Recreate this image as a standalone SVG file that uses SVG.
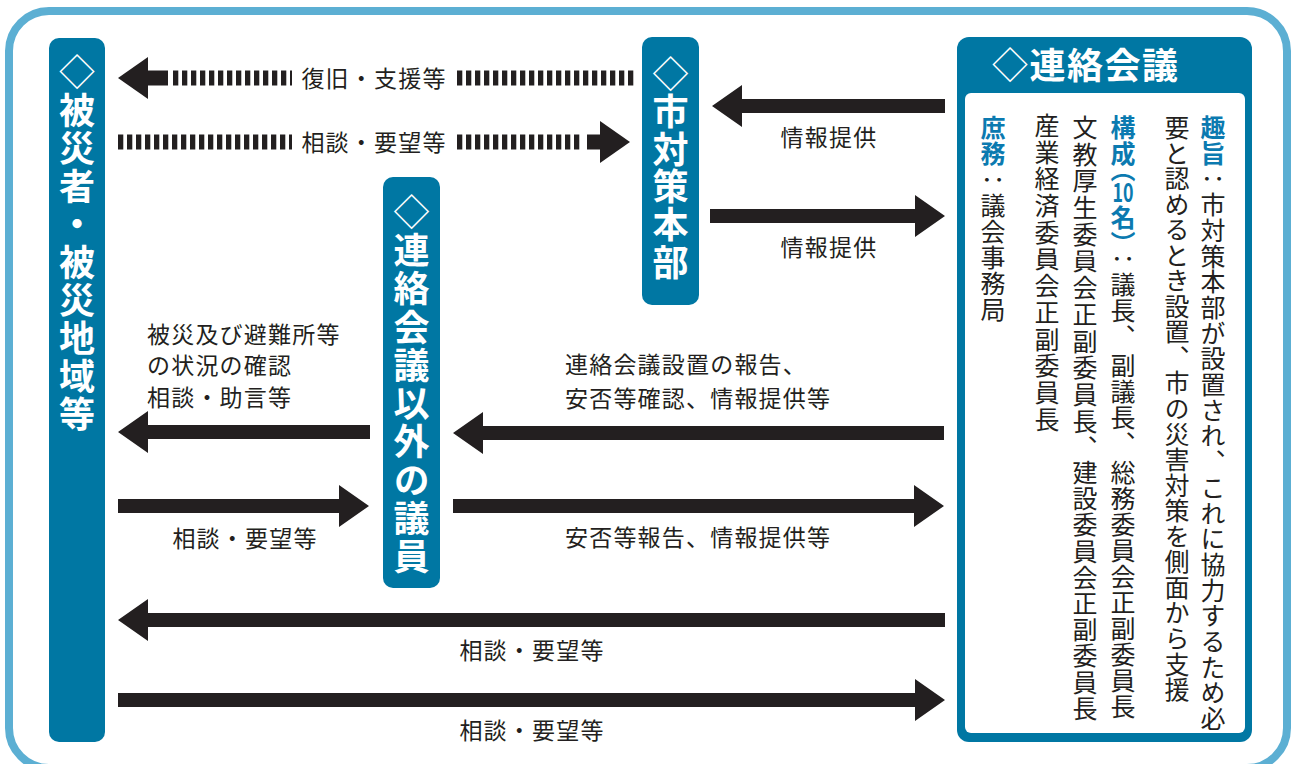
<svg xmlns="http://www.w3.org/2000/svg" width="1293" height="764" viewBox="0 0 1293 764">
<defs>
<style>
.node{fill:#0077a3;}
.nl{font-family:"Noto Sans CJK JP","Noto Sans CJK SC",sans-serif;font-weight:700;font-size:36px;fill:#ffffff;writing-mode:vertical-rl;letter-spacing:1.6px;}
.dia{font-weight:400;}
.lbl{font-family:"Noto Sans CJK JP","Noto Sans CJK SC",sans-serif;font-size:23px;fill:#231f20;letter-spacing:1.2px;}
.vt{font-family:"Noto Sans CJK JP","Noto Sans CJK SC",sans-serif;font-size:25px;fill:#231f20;writing-mode:vertical-rl;}
.bl{fill:#0b7ab0;font-weight:700;}
.arr{fill:#231f20;}
.dash{stroke:#231f20;stroke-width:15;stroke-dasharray:5.3 3.7;fill:none;}
</style>
</defs>
<rect x="9" y="11" width="1278" height="757" rx="40" ry="40" fill="#ffffff" stroke="#5cafd3" stroke-width="8"/>

<g id="node-hisaisha">
<rect class="node" x="49" y="38" width="56" height="704" rx="10"/>
<text class="nl" x="77" y="54" style="letter-spacing:2px"><tspan class="dia">◇</tspan>被災者・被災地域等</text>
</g>

<g id="node-shitaisaku">
<rect class="node" x="642" y="37" width="57" height="268" rx="10"/>
<text class="nl" x="670.5" y="56"><tspan class="dia">◇</tspan>市対策本部</text>
</g>

<g id="node-giin">
<rect class="node" x="383" y="177" width="57" height="411" rx="10"/>
<text class="nl" x="411.5" y="194" style="letter-spacing:2.3px"><tspan class="dia">◇</tspan>連絡会議以外の議員</text>
</g>

<g id="node-renraku">
<rect class="node" x="957" y="37" width="295" height="705" rx="12"/>
<rect x="965" y="93" width="280" height="640" rx="6" fill="#ffffff"/>
<text x="992" y="79" font-family="Noto Sans CJK JP, Noto Sans CJK SC, sans-serif" font-weight="700" font-size="36" fill="#ffffff" letter-spacing="1.5"><tspan font-weight="400">◇</tspan>連絡会議</text>
<text class="vt" x="1213" y="115" style="letter-spacing:0.7px"><tspan class="bl">趣旨</tspan>：市対策本部が設置され、これに協力するため必</text>
<text class="vt" x="1177" y="115" style="letter-spacing:0.55px">要と認めるとき設置、市の災害対策を側面から支援</text>
<text class="vt bl" x="1123" y="115" style="letter-spacing:1px">構成</text>
<text class="vt bl" x="1123" y="157">（</text>
<text x="1123" y="202" text-anchor="middle" font-family="Noto Sans CJK JP, sans-serif" font-weight="700" font-size="26" fill="#0b7ab0" textLength="21" lengthAdjust="spacingAndGlyphs">10</text>
<text class="vt bl" x="1123" y="205">名</text>
<text class="vt bl" x="1123" y="231">）</text>
<text class="vt" x="1123" y="246" style="letter-spacing:1px">：議長、</text>
<text class="vt" x="1123" y="353" style="letter-spacing:1px">副議長、</text>
<text class="vt" x="1123" y="460" style="letter-spacing:1px">総務委員会正副委員長</text>
<text class="vt" x="1085" y="115" style="letter-spacing:1.7px">文教厚生委員会正副委員長、</text>
<text class="vt" x="1085" y="460" style="letter-spacing:1.2px">建設委員会正副委員長</text>
<text class="vt" x="1047" y="113" style="letter-spacing:1.7px">産業経済委員会正副委員長</text>
<text class="vt" x="993" y="115" style="letter-spacing:1px"><tspan class="bl">庶務</tspan>：議会事務局</text>
</g>

<g id="connectors">
<polygon class="arr" points="118,78 148,57 148,99"/>
<rect class="arr" x="147" y="70.5" width="21" height="15"/>
<line class="dash" x1="173" y1="78" x2="292" y2="78"/>
<line class="dash" x1="457" y1="78" x2="634" y2="78"/>

<line class="dash" x1="118" y1="142" x2="292" y2="142"/>
<line class="dash" x1="457" y1="142" x2="583" y2="142"/>
<rect class="arr" x="587" y="134.5" width="14" height="15"/>
<polygon class="arr" points="630,142 600,121 600,163"/>

<polygon class="arr" points="712,106 742,85 742,99 945,99 945,113 742,113 742,127"/>
<polygon class="arr" points="945,216 915,195 915,209 710,209 710,223 915,223 915,237"/>
<polygon class="arr" points="118,432 148,411 148,425 370,425 370,439 148,439 148,453"/>
<polygon class="arr" points="369,506 339,485 339,499 118,499 118,513 339,513 339,527"/>
<polygon class="arr" points="453,433 483,412 483,426 944,426 944,440 483,440 483,454"/>
<polygon class="arr" points="944,506 914,485 914,499 453,499 453,513 914,513 914,527"/>
<polygon class="arr" points="118,620 148,599 148,613 945,613 945,627 148,627 148,641"/>
<polygon class="arr" points="945,700 915,679 915,693 118,693 118,707 915,707 915,721"/>

<text class="lbl" x="374" y="87" text-anchor="middle">復旧・支援等</text>
<text class="lbl" x="374" y="151" text-anchor="middle">相談・要望等</text>
<text class="lbl" x="829" y="146" text-anchor="middle">情報提供</text>
<text class="lbl" x="829" y="256" text-anchor="middle">情報提供</text>
<text class="lbl" x="147" y="343">被災及び避難所等</text>
<text class="lbl" x="147" y="374">の状況の確認</text>
<text class="lbl" x="147" y="406">相談・助言等</text>
<text class="lbl" x="245" y="547" text-anchor="middle">相談・要望等</text>
<text class="lbl" x="565" y="373">連絡会議設置の報告、</text>
<text class="lbl" x="565" y="407">安否等確認、情報提供等</text>
<text class="lbl" x="565" y="546">安否等報告、情報提供等</text>
<text class="lbl" x="532" y="659" text-anchor="middle">相談・要望等</text>
<text class="lbl" x="532" y="739" text-anchor="middle">相談・要望等</text>
</g>
</svg>
